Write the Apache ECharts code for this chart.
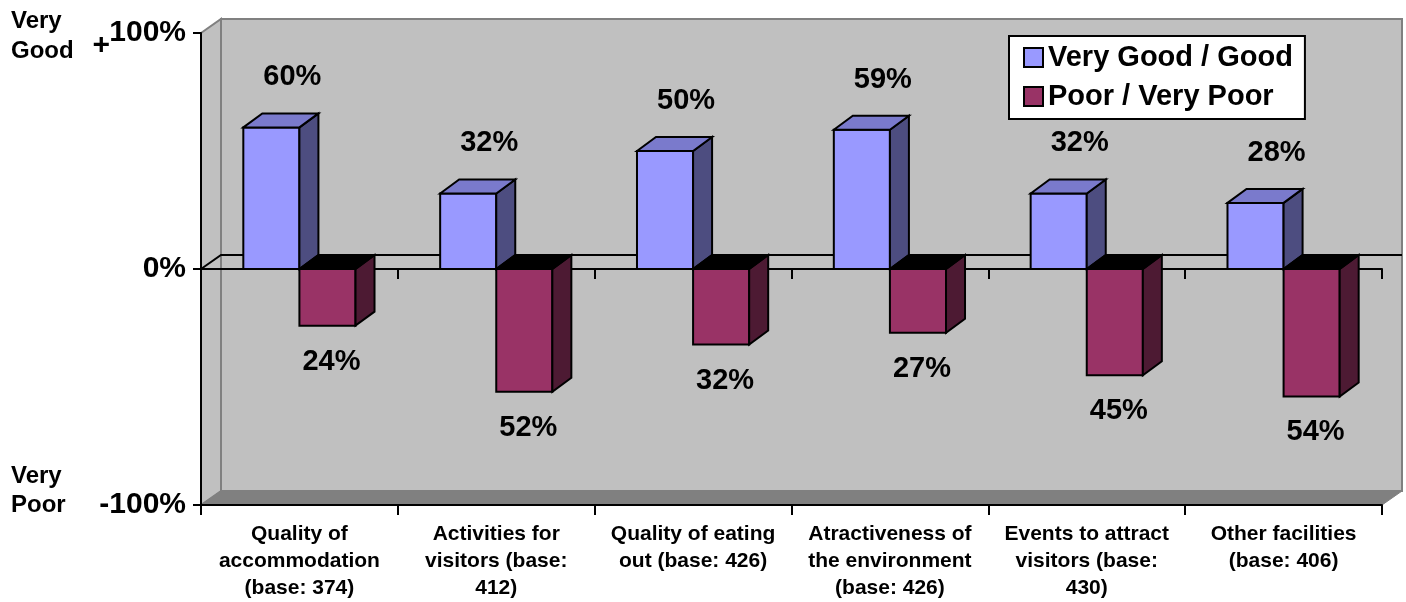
<!DOCTYPE html>
<html>
<head>
<meta charset="utf-8">
<title>Satisfaction with facilities</title>
<script src="https://cdn.jsdelivr.net/npm/echarts@6/dist/echarts.min.js"></script>
<style>
  html, body { margin: 0; padding: 0; background: #ffffff; }
  #chart { width: 1406px; height: 602px; }
</style>
</head>
<body>
<div id="chart"></div>
<script>
// Category labels (x axis)
const categories = [
  'Quality of\naccommodation\n(base: 374)',
  'Activities for\nvisitors (base:\n412)',
  'Quality of eating\nout (base: 426)',
  'Atractiveness of\nthe environment\n(base: 426)',
  'Events to attract\nvisitors (base:\n430)',
  'Other facilities\n(base: 406)'
];
// Share of ratings, in percent
const goodValues = [60, 32, 50, 59, 32, 28];
const poorValues = [24, 52, 32, 27, 45, 54];
const seriesNames = ['Very Good / Good', 'Poor / Very Poor'];
// Value axis ticks
const yMin = -100, yMax = 100, yStep = 100;

const FONT = '"Liberation Sans", Arial, sans-serif';
const DEPTH = { x: 19, y: -14 };      // oblique offset of bar depth
const WALL = { x: 20, y: -14 };       // oblique offset of the chart walls

const palette = [
  { front: '#9999FF', side: '#4D4D80', top: '#7A7ACC' },
  { front: '#993366', side: '#4D1A33', top: '#000000' }
];

function pts(arr) { return arr.map(p => [p[0], p[1]]); }

// Back wall, side wall, floor and the receding zero plane line
function renderWalls(params, api) {
  const cs = params.coordSys;
  const x0 = cs.x, x1 = cs.x + cs.width;
  const yT = cs.y, yB = cs.y + cs.height;
  const y0 = api.coord([0, 0])[1];
  const dx = WALL.x, dy = WALL.y;
  return {
    type: 'group',
    children: [
      { type: 'rect', shape: { x: x0 + dx, y: yT + dy, width: cs.width, height: cs.height },
        style: { fill: '#C0C0C0', stroke: '#808080', lineWidth: 2 } },
      { type: 'polygon', shape: { points: pts([[x0, yT], [x0 + dx, yT + dy], [x0 + dx, yB + dy], [x0, yB]]) },
        style: { fill: '#C0C0C0', stroke: '#808080', lineWidth: 2 } },
      { type: 'polygon', shape: { points: pts([[x0, yB], [x0 + dx, yB + dy], [x1 + dx, yB + dy], [x1, yB]]) },
        style: { fill: '#808080', stroke: '#808080', lineWidth: 1 } },
      { type: 'polyline', shape: { points: pts([[x0, y0], [x0 + dx, y0 + dy], [x1 + dx, y0 + dy]]) },
        style: { fill: null, stroke: '#000', lineWidth: 2 } }
    ]
  };
}

// One oblique 3D column with its value label
function makeBarRenderer(si) {
  return function (params, api) {
    const idx = api.value(0);
    const v = api.value(1);
    const p = api.coord([idx, v]);
    const b = api.coord([idx, 0]);
    const band = api.size([1, 0])[0];
    const w = band * 0.285;
    const xl = si === 0 ? p[0] - w : p[0];
    const xr = xl + w;
    const yTop = Math.min(p[1], b[1]);
    const yBot = Math.max(p[1], b[1]);
    const dx = DEPTH.x, dy = DEPTH.y;
    const c = palette[si];
    const edge = { stroke: '#000', lineWidth: 2, lineJoin: 'miter' };
    const mid = (xl + xr) / 2;
    const labelX = v >= 0 ? mid + 21 : mid + 4;
    const labelY = v >= 0 ? yTop - 50 : yBot + 36;
    return {
      type: 'group',
      children: [
        { type: 'rect', shape: { x: xl, y: yTop, width: w, height: yBot - yTop },
          style: Object.assign({ fill: c.front }, edge) },
        { type: 'polygon', shape: { points: pts([[xr, yTop], [xr + dx, yTop + dy], [xr + dx, yBot + dy], [xr, yBot]]) },
          style: Object.assign({ fill: c.side }, edge) },
        { type: 'polygon', shape: { points: pts([[xl, yTop], [xl + dx, yTop + dy], [xr + dx, yTop + dy], [xr, yTop]]) },
          style: Object.assign({ fill: c.top }, edge) },
        { type: 'text', x: labelX, y: labelY,
          style: { text: Math.abs(v) + '%', fill: '#000', font: 'bold 29px ' + FONT,
                   align: 'center', verticalAlign: 'middle' } }
      ]
    };
  };
}

const chart = echarts.init(document.getElementById('chart'), null, { renderer: 'canvas' });

const axisLineStyle = { color: '#000', width: 2 };

chart.setOption({
  animation: false,
  backgroundColor: '#ffffff',
  textStyle: { fontFamily: FONT },
  grid: { left: 201, right: 24, top: 33, bottom: 97, containLabel: false },
  legend: {
    orient: 'vertical',
    left: 1009, top: 36,
    backgroundColor: '#ffffff',
    borderColor: '#000', borderWidth: 2,
    padding: [7, 12, 8, 14],
    itemWidth: 19, itemHeight: 19, itemGap: 10,
    icon: 'rect',
    itemStyle: { borderColor: '#000', borderWidth: 2 },
    textStyle: { fontSize: 29, fontWeight: 'bold', color: '#000', fontFamily: FONT },
    data: seriesNames
  },
  xAxis: [
    {
      // axis running along the zero plane
      type: 'category', data: categories, position: 'bottom',
      boundaryGap: true,
      axisLine: { show: true, onZero: true, lineStyle: axisLineStyle },
      axisTick: { show: true, length: 10, lineStyle: axisLineStyle },
      axisLabel: { show: false },
      splitLine: { show: false }
    },
    {
      // floor axis carrying the category labels
      type: 'category', data: categories, position: 'bottom',
      boundaryGap: true,
      axisLine: { show: true, onZero: false, lineStyle: axisLineStyle },
      axisTick: { show: true, length: 10, lineStyle: axisLineStyle },
      axisLabel: { show: true, interval: 0, margin: 16, color: '#000', fontSize: 21,
                   fontWeight: 'bold', lineHeight: 27, fontFamily: FONT, align: 'center' },
      splitLine: { show: false }
    }
  ],
  yAxis: {
    type: 'value', min: yMin, max: yMax, interval: yStep,
    axisLine: { show: true, lineStyle: axisLineStyle },
    axisTick: { show: true, length: 8, lineStyle: axisLineStyle },
    splitLine: { show: false },
    axisLabel: {
      margin: 15, color: '#000', fontSize: 30, fontWeight: 'bold', fontFamily: FONT,
      padding: [6, 0, 0, 0],
      formatter: v => v + '%'
    }
  },
  graphic: [
    { type: 'text', left: 11, top: 6,
      style: { text: 'Very\nGood', font: 'bold 24px ' + FONT, fill: '#000', lineHeight: 30 } },
    { type: 'text', left: 11, top: 462,
      style: { text: 'Very\nPoor', font: 'bold 24px ' + FONT, fill: '#000', lineHeight: 29 } },
    { type: 'text', x: 110, y: 46,
      style: { text: '+', font: 'bold 30px ' + FONT, fill: '#000', align: 'right', verticalAlign: 'middle' } }
  ],
  series: [
    {
      type: 'custom', name: 'walls', z: -1, silent: true, clip: false,
      xAxisIndex: 0, yAxisIndex: 0,
      renderItem: renderWalls,
      data: [[0, 0]]
    },
    {
      type: 'custom', name: seriesNames[0], z: 2, clip: false,
      xAxisIndex: 0, yAxisIndex: 0,
      itemStyle: { color: palette[0].front },
      renderItem: makeBarRenderer(0),
      data: goodValues.map((v, i) => [i, v])
    },
    {
      type: 'custom', name: seriesNames[1], z: 2, clip: false,
      xAxisIndex: 0, yAxisIndex: 0,
      itemStyle: { color: palette[1].front },
      renderItem: makeBarRenderer(1),
      data: poorValues.map((v, i) => [i, -v])
    }
  ]
});
</script>
</body>
</html>
